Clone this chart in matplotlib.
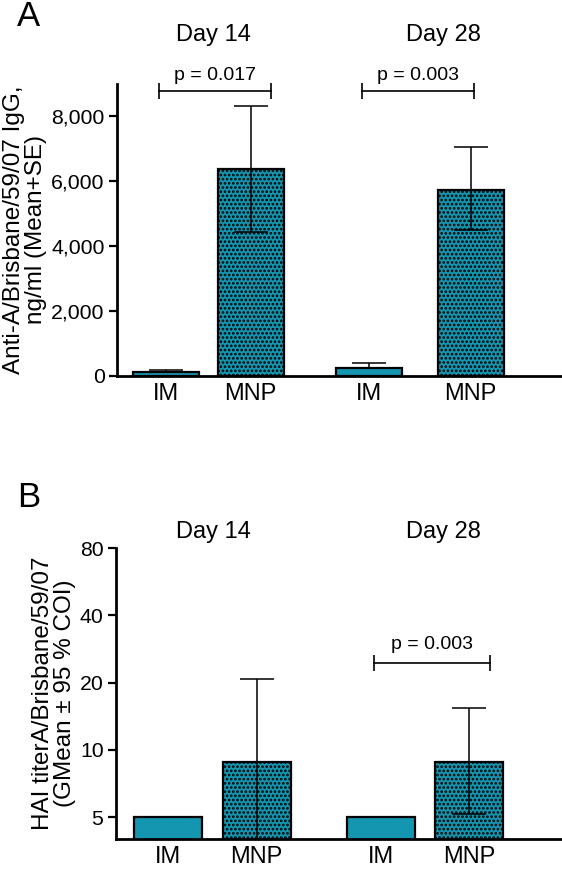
import matplotlib.pyplot as plt
from matplotlib.ticker import FixedLocator, FuncFormatter, NullLocator

plt.rcParams['font.family'] = ['Liberation Sans', 'DejaVu Sans']
plt.rcParams['hatch.linewidth'] = 1.3
plt.rcParams['hatch.color'] = '#0b2a33'

groups = ['IM', 'MNP', 'IM', 'MNP']
days = ['Day 14', 'Day 28']

# panel A: IgG, mean with SE
igg_mean = [120, 6380, 250, 5740]
igg_low = [120, 4430, 250, 4500]
igg_high = [180, 8320, 390, 7050]
igg_p = ['p = 0.017', 'p = 0.003']

# panel B: HAI titer, geometric mean with 95% CI
hai_mean = [5, 8.8, 5, 8.8]
hai_low = [5, 3.5, 5, 5.15]
hai_high = [5, 20.8, 5, 15.4]
hai_p = [None, 'p = 0.003']

teal = '#1596b0'
W, H = 562, 869
fig = plt.figure(figsize=(W / 100, H / 100), dpi=100)


def box(l, t, r, b):
    return [l / W, 1 - b / H, (r - l) / W, (b - t) / H]


def panel(ax, pos, mean, low, high, pvals, width, ypval, base):
    for i, (x, m) in enumerate(zip(pos, mean)):
        hatch = '....' if groups[i] == 'MNP' else None
        ax.bar(x, m - base, width=width, bottom=base, color=teal,
               edgecolor='black', linewidth=1.6, hatch=hatch, zorder=2)
    for i, x in enumerate(pos):
        lo = mean[i] - low[i]
        hi = high[i] - mean[i]
        if lo == 0 and hi == 0:
            continue
        ax.errorbar(x, mean[i], yerr=[[lo], [hi]], color='black', lw=1.1,
                    capsize=12, capthick=1.1, zorder=3)
    for k in range(2):
        if pvals[k] is None:
            continue
        x0 = pos[2 * k] - 0.08
        x1 = pos[2 * k] + 1.24
        ax.plot([x0, x1], [ypval, ypval], color='black', lw=1.2, clip_on=False)
        for xe in (x0, x1):
            ax.plot([xe], [ypval], marker='|', ms=12, mew=1.2,
                    color='black', clip_on=False)
    ax.set_xticks(pos)
    ax.set_xticklabels(groups, fontsize=17)
    ax.tick_params(axis='x', length=0, pad=5)
    ax.tick_params(axis='y', labelsize=15.3, width=1.6, length=6, pad=3)
    for s in ['top', 'right']:
        ax.spines[s].set_visible(False)
    for s in ['left', 'bottom']:
        ax.spines[s].set_linewidth(2)


def day_labels(ypix):
    for d, xpix in zip(days, [213, 443]):
        fig.text(xpix / W, 1 - ypix / H, d, ha='center', va='center', fontsize=17)


# panel A
axA = fig.add_axes(box(117, 84, 562, 376))
posA = [0, 1, 2.4, 3.6]
axA.set_xlim(-0.58, 4.68)
axA.set_ylim(0, 9000)
panel(axA, posA, igg_mean, igg_low, igg_high, igg_p, 0.78, 8780, 0)
for k in range(2):
    xc = posA[2 * k] + 0.58
    axA.text(xc, 8780 + 230, igg_p[k], ha='center', va='bottom', fontsize=14)
axA.set_yticks([0, 2000, 4000, 6000, 8000])
axA.yaxis.set_major_formatter(FuncFormatter(lambda v, p: f'{int(v):,}'))
axA.set_ylabel('Anti-A/Brisbane/59/07 IgG,\nng/ml (Mean+SE)', fontsize=17.5,
               linespacing=1.0, labelpad=3)
day_labels(35)
fig.text(17 / W, 1 - 17 / H, 'A', fontsize=25, ha='left', va='center')

# panel B
axB = fig.add_axes(box(116, 548, 562, 839))
axB.set_yscale('log', base=2)
axB.set_ylim(4, 80)
posB = [0, 1, 2.4, 3.4]
axB.set_xlim(-0.59, 4.45)
panel(axB, posB, hai_mean, hai_low, hai_high, hai_p, 0.77, 24.6, 1)
xc = posB[2] + 0.58
axB.text(xc, 24.6 * 1.1, hai_p[1], ha='center', va='bottom', fontsize=14)
axB.yaxis.set_major_locator(FixedLocator([5, 10, 20, 40, 80]))
axB.yaxis.set_minor_locator(NullLocator())
axB.yaxis.set_major_formatter(FuncFormatter(lambda v, p: f'{v:g}'))
axB.set_ylabel('HAI titerA/Brisbane/59/07\n(GMean \u00b1 95 % COI)', fontsize=17.5,
               linespacing=1.0, labelpad=3)
day_labels(532)
fig.text(17 / W, 1 - 497 / H, 'B', fontsize=25, ha='left', va='center')

plt.savefig('out.png', dpi=100)
